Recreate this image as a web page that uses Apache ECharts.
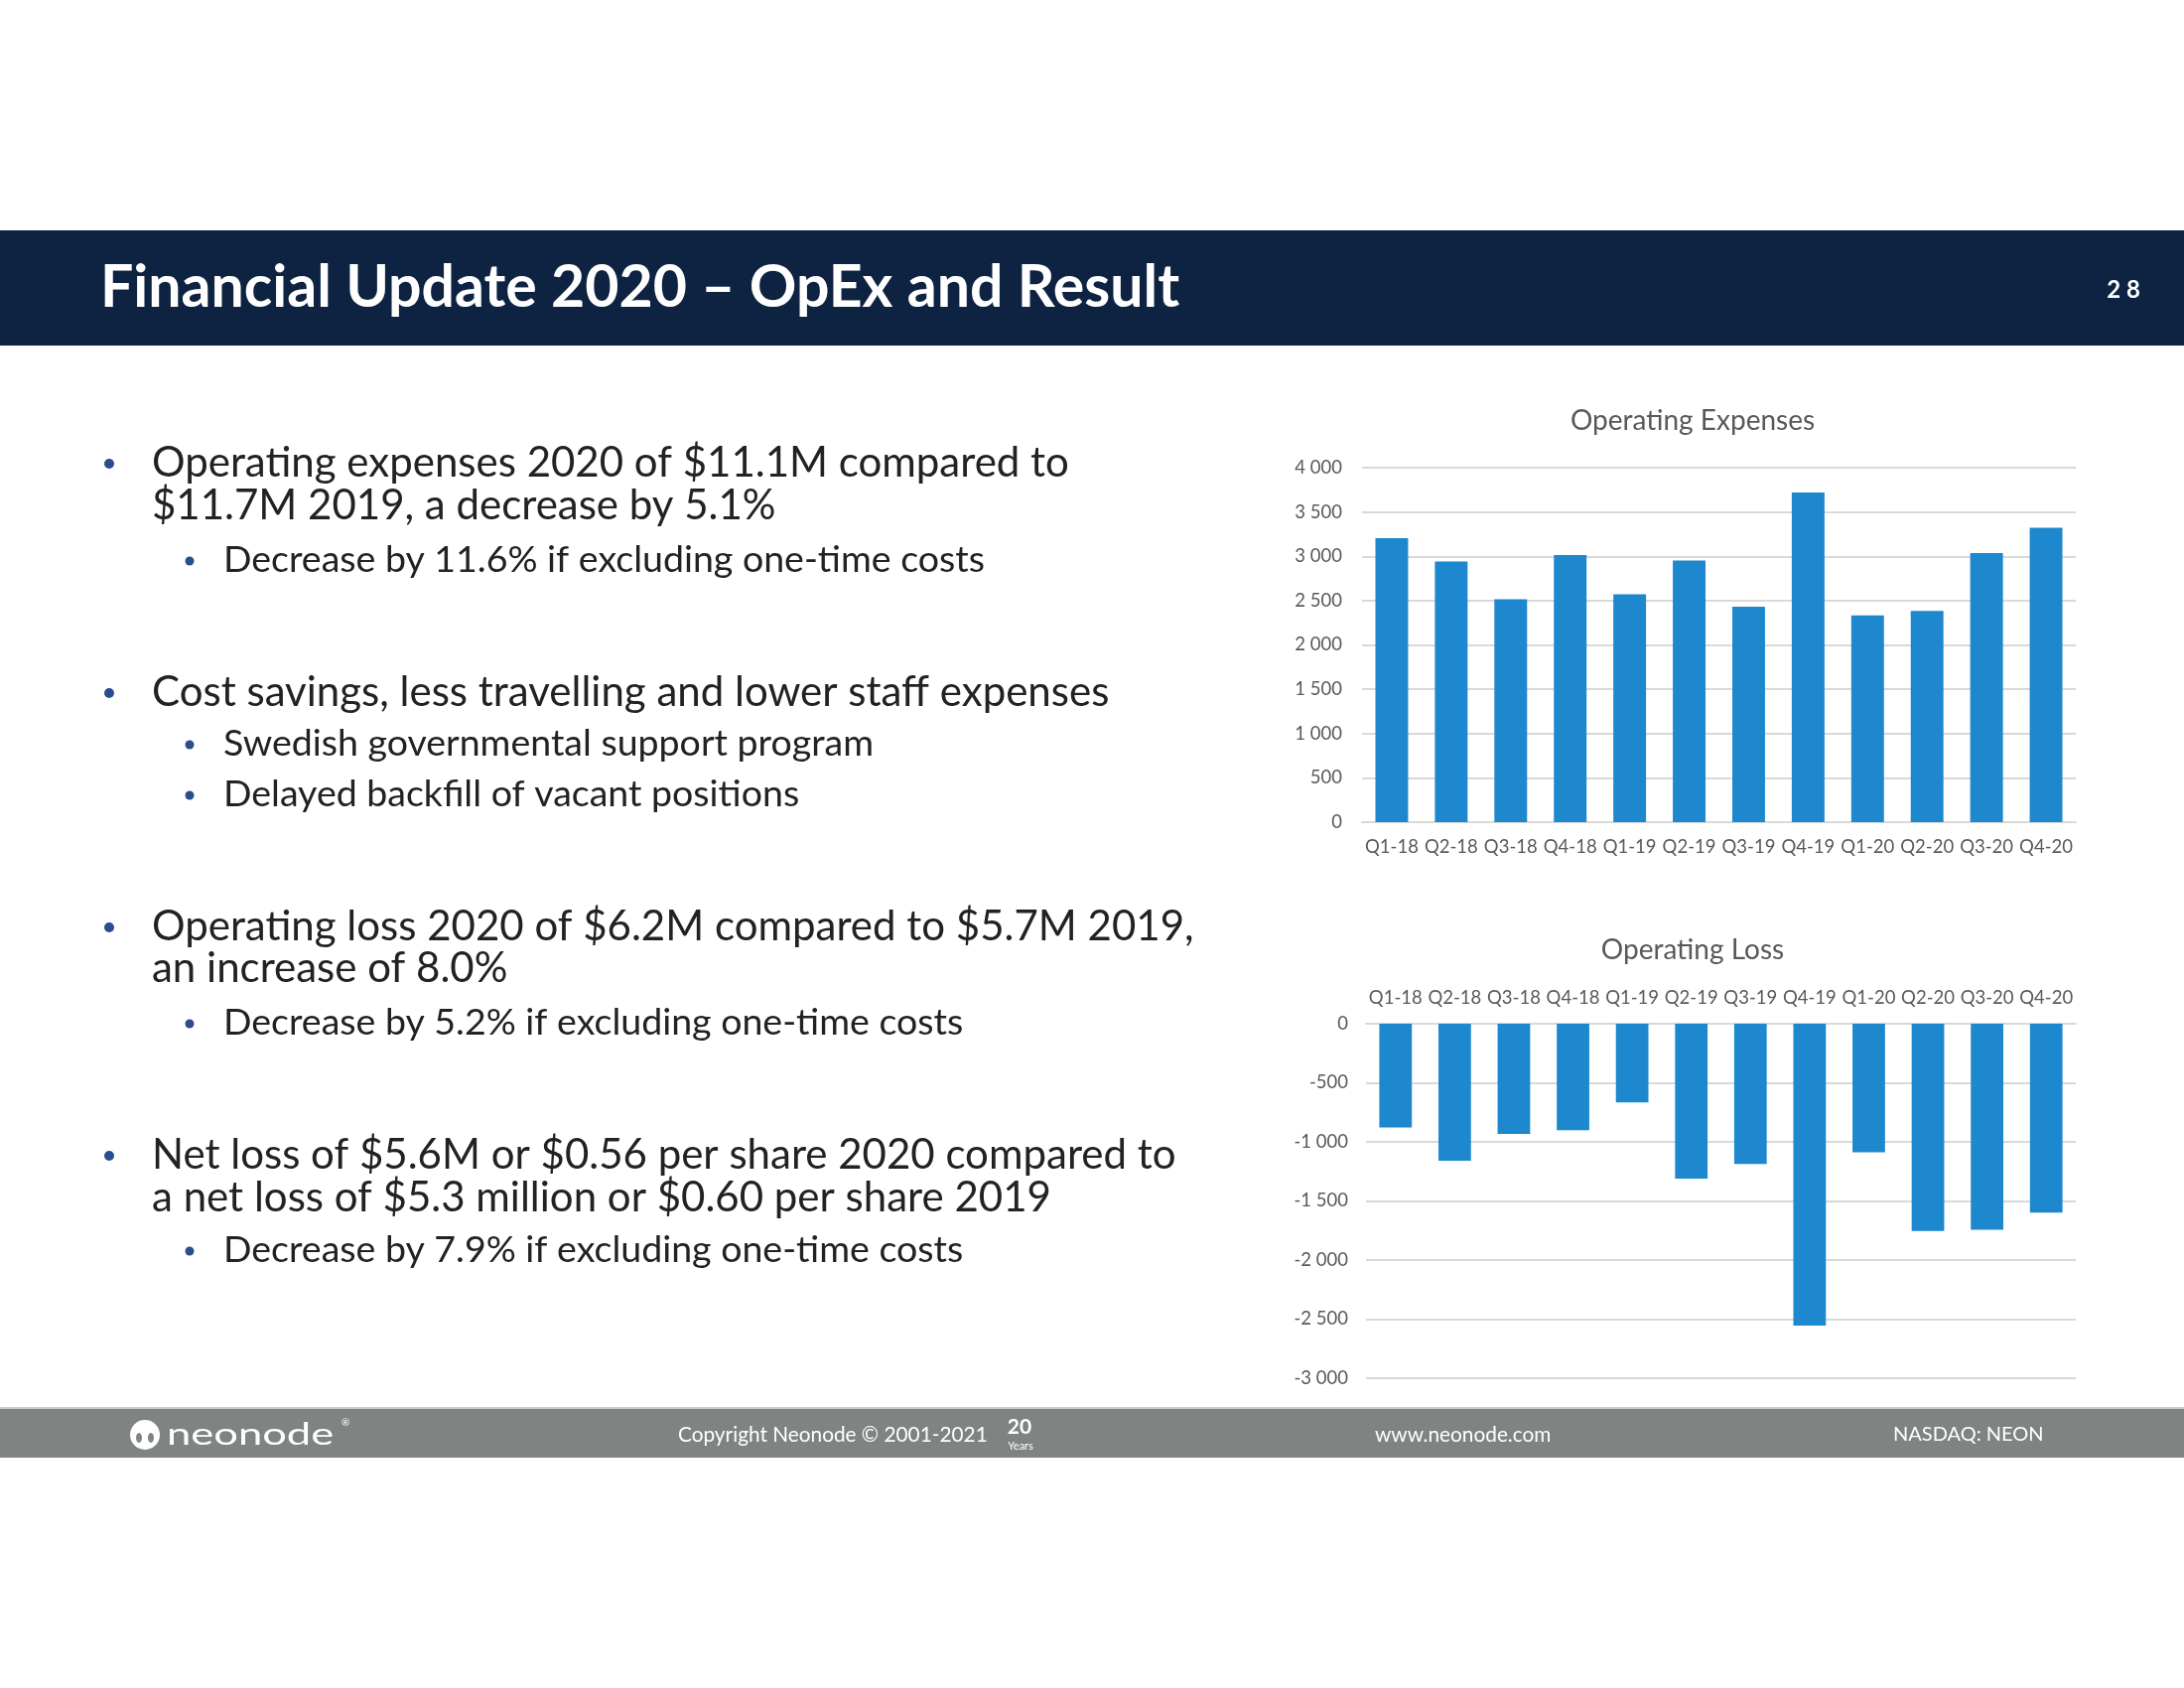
<!doctype html>
<html>
  <head>
    <meta charset="utf-8">
    <title>Financial Update 2020 - OpEx and Result</title>
    <script src="https://cdn.jsdelivr.net/npm/echarts@6/dist/echarts.min.js"></script>
    <style>
      html, body {
        margin: 0;
        padding: 0;
        background-color: #FFFFFF;
      }
      #slide {
        width: 2200px;
        height: 1700px;
      }
    </style>
  </head>

  <body>
    <div id="slide"></div>
    <script type="text/javascript">
      // quarters shown on both charts
      var quarters = ['Q1-18', 'Q2-18', 'Q3-18', 'Q4-18', 'Q1-19', 'Q2-19',
        'Q3-19', 'Q4-19', 'Q1-20', 'Q2-20', 'Q3-20', 'Q4-20'];

      // Operating Expenses (kUSD)
      var opexValues = [3204, 2942, 2516, 3013, 2572, 2953, 2430, 3720, 2333, 2385, 3036, 3323];

      // Operating Loss (kUSD)
      var lossValues = [-879, -1159, -932, -901, -666, -1310, -1187, -2555, -1089, -1755, -1743, -1598];

      // axis ranges: min, max, step
      var opexRange = [0, 4000, 500];
      var lossRange = [-3000, 0, 500];

      var chartTitles = ['Operating Expenses', 'Operating Loss'];
      var slideTitle = 'Financial Update 2020 \u2013 OpEx and Result';
      var pageNo = '2 8';

      // slide bullets: level 1 = main, level 2 = sub bullet
      var bulletLevels = [1, 1, 2, 1, 2, 2, 1, 1, 2, 1, 1, 2];
      var bulletTexts = [
        'Operating expenses 2020 of $11.1M compared to',
        '$11.7M 2019, a decrease by 5.1%',
        'Decrease by 11.6% if excluding one-time costs',
        'Cost savings, less travelling and lower staff expenses',
        'Swedish governmental support program',
        'Delayed backfill of vacant positions',
        'Operating loss 2020 of $6.2M compared to $5.7M 2019,',
        'an increase of 8.0%',
        'Decrease by 5.2% if excluding one-time costs',
        'Net loss of $5.6M or $0.56 per share 2020 compared to',
        'a net loss of $5.3 million or $0.60 per share 2019',
        'Decrease by 7.9% if excluding one-time costs'
      ];
      // first line of a bullet gets a dot, continuation lines don't
      var bulletDots = [1, 0, 1, 1, 1, 1, 1, 0, 1, 1, 0, 1];

      var footerTexts = ['Copyright Neonode \u00a9 2001-2021', 'www.neonode.com', 'NASDAQ: NEON'];

      var FONT = 'Lato, "Open Sans", sans-serif';
      var BAR = '#1E88CF';
      var GRID = '#D9D9D9';
      var LABEL = '#595959';

      // "4 000" style numbers
      function spaced(v) {
        var neg = v < 0;
        var s = String(Math.abs(v)).replace(/\B(?=(\d{3})+(?!\d))/g, ' ');
        return (neg ? '-' : '') + s;
      }

      // layout of the slide text (y = middle of each line)
      var lineY = [466, 509, 564, 697, 749, 800, 933, 975, 1030, 1163, 1206, 1259];

      var graphics = [];

      // header band
      graphics.push({
        type: 'rect',
        shape: { x: 0, y: 232, width: 2200, height: 116 },
        style: { fill: '#0E2342' },
        silent: true
      });
      graphics.push({
        type: 'text',
        x: 101, y: 290,
        style: {
          text: slideTitle, fill: '#FFFFFF', font: 'bold 59px ' + FONT,
          textVerticalAlign: 'middle'
        }
      });
      graphics.push({
        type: 'text',
        x: 2139, y: 292,
        style: {
          text: pageNo, fill: '#FFFFFF', font: 'bold 24px ' + FONT,
          textAlign: 'center', textVerticalAlign: 'middle'
        }
      });

      // bullets
      for (var i = 0; i < bulletTexts.length; i++) {
        var main = bulletLevels[i] === 1;
        if (bulletDots[i]) {
          graphics.push({
            type: 'circle',
            shape: { cx: main ? 110 : 191, cy: lineY[i] + 1, r: main ? 5 : 4.5 },
            style: { fill: '#2B4C8E' },
            silent: true
          });
        }
        graphics.push({
          type: 'text',
          x: main ? 153 : 225,
          y: lineY[i],
          style: {
            text: bulletTexts[i], fill: '#222222',
            font: (main ? '42px ' : '37.5px ') + FONT,
            textVerticalAlign: 'middle'
          }
        });
      }

      // chart titles
      graphics.push({
        type: 'text', x: 1705, y: 424,
        style: { text: chartTitles[0], fill: LABEL, font: '28px ' + FONT, textAlign: 'center', textVerticalAlign: 'middle' }
      });
      graphics.push({
        type: 'text', x: 1705, y: 957,
        style: { text: chartTitles[1], fill: LABEL, font: '28px ' + FONT, textAlign: 'center', textVerticalAlign: 'middle' }
      });

      // footer band
      graphics.push({
        type: 'rect',
        shape: { x: 0, y: 1418, width: 2200, height: 50 },
        style: { fill: '#7F8483' },
        silent: true
      });
      graphics.push({
        type: 'rect',
        shape: { x: 0, y: 1417, width: 2200, height: 2 },
        style: { fill: '#C9CCCB' },
        silent: true
      });
      // neonode logo
      graphics.push({
        type: 'circle',
        shape: { cx: 146, cy: 1445, r: 15 },
        style: { fill: '#FFFFFF' },
        silent: true
      });
      graphics.push({
        type: 'ellipse',
        shape: { cx: 140, cy: 1448, rx: 3, ry: 5 },
        style: { fill: '#7F8483' },
        silent: true
      });
      graphics.push({
        type: 'ellipse',
        shape: { cx: 152, cy: 1448, rx: 3, ry: 5 },
        style: { fill: '#7F8483' },
        silent: true
      });
      graphics.push({
        type: 'text',
        x: 168, y: 1445, scaleX: 1.45,
        style: { text: 'neonode', fill: '#FFFFFF', font: '30px ' + FONT, textVerticalAlign: 'middle' }
      });
      graphics.push({
        type: 'text',
        x: 344, y: 1433,
        style: { text: '\u00ae', fill: '#FFFFFF', font: '10px ' + FONT, textVerticalAlign: 'middle' }
      });
      graphics.push({
        type: 'text',
        x: 683, y: 1445,
        style: { text: footerTexts[0], fill: '#FFFFFF', font: '20.8px ' + FONT, textVerticalAlign: 'middle' }
      });
      graphics.push({
        type: 'text',
        x: 1027, y: 1437,
        style: { text: '20', fill: '#FFFFFF', font: 'bold 21px ' + FONT, textAlign: 'center', textVerticalAlign: 'middle' }
      });
      graphics.push({
        type: 'text',
        x: 1028, y: 1456,
        style: { text: 'Years', fill: '#FFFFFF', font: '11px ' + FONT, textAlign: 'center', textVerticalAlign: 'middle' }
      });
      graphics.push({
        type: 'text',
        x: 1385, y: 1445,
        style: { text: footerTexts[1], fill: '#FFFFFF', font: '20.8px ' + FONT, textVerticalAlign: 'middle' }
      });
      graphics.push({
        type: 'text',
        x: 1907, y: 1445,
        style: { text: footerTexts[2], fill: '#FFFFFF', font: '20px ' + FONT, textVerticalAlign: 'middle' }
      });

      var axisLabelStyle = { color: LABEL, fontFamily: FONT, fontSize: 18.5 };

      var myChart = echarts.init(document.getElementById('slide'), null, { renderer: 'canvas' });
      myChart.setOption({
        backgroundColor: '#FFFFFF',
        animation: false,
        textStyle: { fontFamily: FONT },
        grid: [
          { left: 1372, top: 471, width: 719, height: 357 },
          { left: 1376, top: 1031, width: 715, height: 357 }
        ],
        xAxis: [{
          type: 'category', gridIndex: 0, data: quarters,
          axisLine: { lineStyle: { color: GRID, width: 2 } },
          axisTick: { show: false },
          axisLabel: Object.assign({ margin: 16, interval: 0 }, axisLabelStyle)
        }, {
          type: 'category', gridIndex: 1, data: quarters, position: 'top',
          axisLine: { lineStyle: { color: GRID, width: 2 } },
          axisTick: { show: false },
          axisLabel: Object.assign({ margin: 16, interval: 0 }, axisLabelStyle)
        }],
        yAxis: [{
          type: 'value', gridIndex: 0,
          min: opexRange[0], max: opexRange[1], interval: opexRange[2],
          axisLine: { show: false }, axisTick: { show: false },
          splitLine: { lineStyle: { color: GRID, width: 2 } },
          axisLabel: Object.assign({ margin: 20, formatter: spaced }, axisLabelStyle)
        }, {
          type: 'value', gridIndex: 1,
          min: lossRange[0], max: lossRange[1], interval: lossRange[2],
          axisLine: { show: false }, axisTick: { show: false },
          splitLine: { lineStyle: { color: GRID, width: 2 } },
          axisLabel: Object.assign({ margin: 18, formatter: spaced }, axisLabelStyle)
        }],
        series: [{
          name: chartTitles[0], type: 'bar',
          xAxisIndex: 0, yAxisIndex: 0,
          data: opexValues, barCategoryGap: '45%',
          itemStyle: { color: BAR }
        }, {
          name: chartTitles[1], type: 'bar',
          xAxisIndex: 1, yAxisIndex: 1,
          data: lossValues, barCategoryGap: '45%',
          itemStyle: { color: BAR }
        }],
        graphic: graphics
      });
    </script>
  </body>
</html>
